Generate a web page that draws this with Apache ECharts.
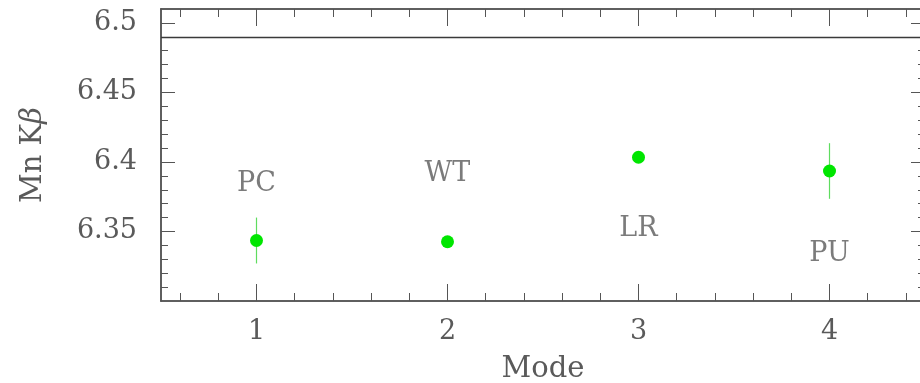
<!DOCTYPE html>
<html>
<head>
<meta charset="utf-8">
<script src="https://cdn.jsdelivr.net/npm/echarts@6/dist/echarts.min.js"></script>
<style>
html,body{margin:0;padding:0;background:#fff;}
#chart{width:920px;height:383px;}
</style>
</head>
<body>
<div id="chart"></div>
<script>
// ---- data ----
const modes = [1, 2, 3, 4];
const modeNames = ['PC', 'WT', 'LR', 'PU'];
const kbeta = [6.3435, 6.3426, 6.4034, 6.3935];
const kbetaErr = [0.0165, 0.002, 0.002, 0.020];
const labelY = [6.3845, 6.3915, 6.352, 6.3335];
const refLine = 6.49;
const xTicks = [1, 2, 3, 4];
const yTicks = [6.35, 6.4, 6.45, 6.5];

// ---- helpers ----
function minorVals(lo, hi, step, majorStep) {
  const out = [];
  const n = Math.round((hi - lo) / step);
  for (let i = 0; i <= n; i++) {
    const v = +(lo + i * step).toFixed(4);
    const r = v / majorStep;
    if (Math.abs(r - Math.round(r)) > 1e-6) out.push(v);
  }
  return out;
}
const xMinor = minorVals(0.6, 4.4, 0.2, 1);
const yMinor = minorVals(6.31, 6.50, 0.01, 0.05);

const axisCol = '#555';
const textCol = '#5a5a5a';
const font = 'DejaVu Serif';
const XMIN = 0.5, XMAX = 4.5, YMIN = 6.30, YMAX = 6.51;

function xAx(pos, ticks, len, main) {
  return {
    type: 'value', position: pos, min: XMIN, max: XMAX,
    axisLine: { show: true, onZero: false, lineStyle: { color: axisCol, width: 1.5 } },
    axisTick: { show: true, inside: true, length: len, customValues: ticks, lineStyle: { color: axisCol, width: 1 } },
    axisLabel: main ? { show: true, customValues: xTicks, margin: 17, color: textCol, fontFamily: font, fontSize: 27 } : { show: false },
    splitLine: { show: false },
    name: main ? 'Mode' : '', nameLocation: 'middle', nameGap: 54,
    nameTextStyle: { color: textCol, fontFamily: font, fontSize: 29 }
  };
}
function yAx(pos, ticks, len, main) {
  return {
    type: 'value', position: pos, min: YMIN, max: YMAX,
    axisLine: { show: true, onZero: false, lineStyle: { color: axisCol, width: 1.5 } },
    axisTick: { show: true, inside: true, length: len, customValues: ticks, lineStyle: { color: axisCol, width: 1 } },
    axisLabel: main ? { show: true, customValues: yTicks, margin: 24, color: textCol, fontFamily: font, fontSize: 27 } : { show: false },
    splitLine: { show: false },
    name: main ? 'Mn K{it|\u03B2}' : '', nameLocation: 'middle', nameGap: 113,
    nameTextStyle: {
      color: textCol, fontFamily: font, fontSize: 29,
      rich: { it: { color: textCol, fontFamily: font, fontSize: 29, fontStyle: 'italic' } }
    }
  };
}

const chart = echarts.init(document.getElementById('chart'), null, { renderer: 'canvas' });
const option = {
  animation: false,
  backgroundColor: '#fff',
  grid: { left: 161, top: 9, width: 764, height: 292, containLabel: false, outerBoundsMode: 'none' },
  xAxis: [
    xAx('bottom', xTicks, 17, true),
    xAx('bottom', xMinor, 8, false),
    xAx('top', xTicks, 17, false),
    xAx('top', xMinor, 8, false)
  ],
  yAxis: [
    yAx('left', yTicks, 14, true),
    yAx('left', yMinor, 7, false),
    yAx('right', yTicks, 14, false),
    yAx('right', yMinor, 7, false)
  ],
  series: [
    {
      type: 'custom', xAxisIndex: 0, yAxisIndex: 0, z: 2,
      data: modes.map((m, i) => [m, kbeta[i], kbetaErr[i]]),
      renderItem: function (params, api) {
        const x = api.value(0), y = api.value(1), e = api.value(2);
        const p1 = api.coord([x, y - e]);
        const p2 = api.coord([x, y + e]);
        return {
          type: 'line',
          shape: { x1: p1[0], y1: p1[1], x2: p2[0], y2: p2[1] },
          style: { stroke: '#5fdc5f', lineWidth: 1.2 }
        };
      }
    },
    {
      type: 'scatter', xAxisIndex: 0, yAxisIndex: 0, z: 3,
      symbol: 'circle', symbolSize: 13,
      itemStyle: { color: '#00e600', opacity: 1 },
      data: modes.map((m, i) => [m, kbeta[i]]),
      markLine: {
        silent: true, symbol: 'none', label: { show: false },
        lineStyle: { color: '#3a3a3a', width: 1.4, type: 'solid' },
        data: [{ yAxis: refLine }]
      }
    },
    {
      type: 'scatter', xAxisIndex: 0, yAxisIndex: 0, z: 4,
      symbolSize: 0, silent: true,
      data: modes.map((m, i) => ({ value: [m, labelY[i]], name: modeNames[i] })),
      label: {
        show: true, position: 'inside', formatter: '{b}',
        color: textCol, fontFamily: font, fontSize: 27
      }
    }
  ]
};
chart.setOption(option);
</script>
</body>
</html>
